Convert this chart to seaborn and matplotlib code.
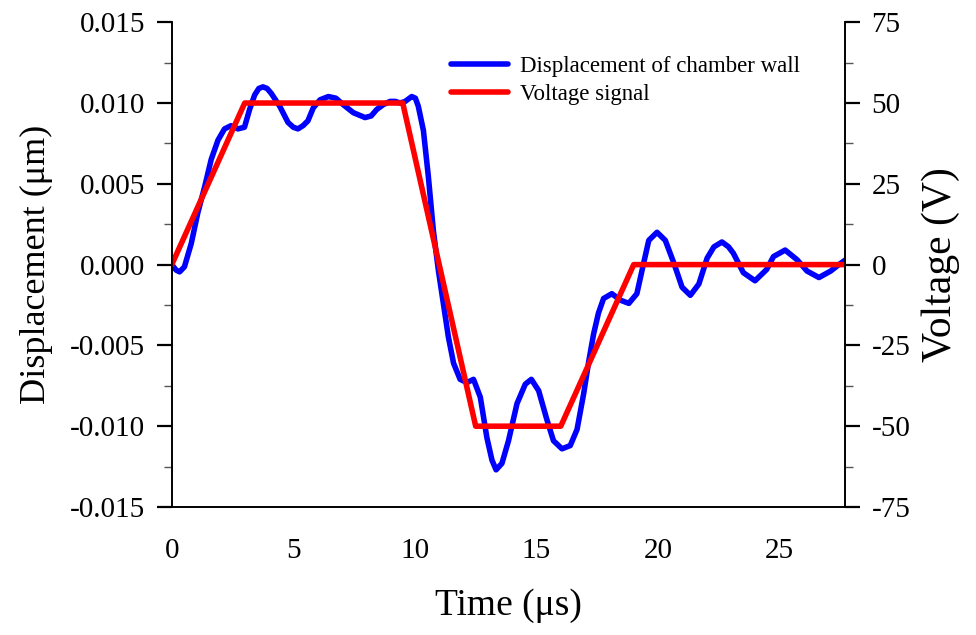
import seaborn as sns
import pandas as pd
import matplotlib.pyplot as plt
from matplotlib.ticker import MultipleLocator

# displacement of chamber wall
t_disp = [0.0, 0.18, 0.32, 0.52, 0.8, 1.07, 1.35, 1.62, 1.9, 2.17, 2.44, 2.72, 2.99,
          3.2, 3.41, 3.58, 3.75, 3.92, 4.09, 4.44, 4.78, 5.0, 5.19, 5.4, 5.6, 5.82, 6.1,
          6.44, 6.75, 7.05, 7.47, 7.95, 8.2, 8.43, 8.7, 8.98, 9.2, 9.39, 9.6, 9.87,
          10.02, 10.14, 10.35, 10.55, 10.76, 10.97, 11.17, 11.38, 11.59, 11.86, 12.14,
          12.41, 12.69, 12.96, 13.17, 13.34, 13.58, 13.85, 14.2, 14.54, 14.79, 15.09,
          15.43, 15.7, 16.05, 16.39, 16.67, 16.94, 17.15, 17.35, 17.55, 17.76, 18.1,
          18.45, 18.8, 19.13, 19.41, 19.62, 19.96, 20.3, 20.65, 20.99, 21.33, 21.68,
          22.02, 22.3, 22.63, 22.9, 23.1, 23.51, 23.99, 24.47, 24.75, 25.23, 25.72,
          26.13, 26.62, 27.1, 27.44, 27.72]
disp = [0.0, -0.00034, -0.00045, -0.00014, 0.0013, 0.0032, 0.0048, 0.0065, 0.0077,
        0.0084, 0.0086, 0.0084, 0.0085, 0.0096, 0.0105, 0.0109, 0.0110, 0.0109, 0.0106,
        0.0098, 0.0088, 0.0085, 0.0084, 0.0086, 0.0089, 0.0097, 0.0102, 0.0104, 0.0103,
        0.0099, 0.0094, 0.0091, 0.0092, 0.0096, 0.0099, 0.0101, 0.0101, 0.0100, 0.0101,
        0.0104, 0.0103, 0.0098, 0.0083, 0.0055, 0.0021, -0.0004, -0.0024, -0.0045,
        -0.0061, -0.0071, -0.0073, -0.0071, -0.0082, -0.0107, -0.0121, -0.0127, -0.0123,
        -0.0109, -0.0086, -0.0074, -0.0071, -0.0078, -0.0096, -0.0109, -0.0114, -0.0112,
        -0.0102, -0.0080, -0.0060, -0.0043, -0.0030, -0.0021, -0.0018, -0.0022, -0.0024,
        -0.0018, 0.0001, 0.0015, 0.0020, 0.0015, 0.0001, -0.0014, -0.0019, -0.0012,
        0.0004, 0.0011, 0.0014, 0.0011, 0.0007, -0.0005, -0.0010, -0.0003, 0.0005,
        0.0009, 0.0003, -0.0004, -0.0008, -0.0004, 0.0000, 0.0003]

# voltage signal
t_volt = [0.0, 3.0, 9.5, 12.5, 16.0, 19.0, 27.7]
volt = [0, 50, 50, -50, -50, 0, 0]

df_d = pd.DataFrame({"Time": t_disp, "Displacement": disp})
df_v = pd.DataFrame({"Time": t_volt, "Voltage": volt})

sns.set_style("white")
plt.rcParams['font.family'] = ['Liberation Serif', 'DejaVu Serif']
plt.rcParams['axes.unicode_minus'] = False
plt.rcParams['text.color'] = 'black'
plt.rcParams['axes.labelcolor'] = 'black'

fig = plt.figure(figsize=(9.76, 6.35), dpi=100)
ax = fig.add_axes([0.176, 0.2016, 0.69, 0.7634])
ax2 = ax.twinx()

sns.lineplot(data=df_d, x="Time", y="Displacement", ax=ax, color="#0000ff", lw=4.0,
             label="Displacement of chamber wall", legend=False, sort=False)
sns.lineplot(data=df_v, x="Time", y="Voltage", ax=ax2, color="#ff0000", lw=4.0,
             label="Voltage signal", legend=False, sort=False)

ax.set_xlim(0, 27.7)
ax.set_ylim(-0.015, 0.015)
ax2.set_ylim(-75, 75)
ax.set_xticks([0, 5, 10, 15, 20, 25])
ax.xaxis.set_minor_locator(MultipleLocator(2.5))
yt = [-0.015, -0.010, -0.005, 0.0, 0.005, 0.010, 0.015]
ax.set_yticks(yt)
ax.set_yticklabels([f"{v:.3f}" for v in yt])
ax.yaxis.set_minor_locator(MultipleLocator(0.0025))
ax2.set_yticks([-75, -50, -25, 0, 25, 50, 75])
ax2.yaxis.set_minor_locator(MultipleLocator(12.5))

for a in (ax, ax2):
    a.spines['top'].set_visible(False)
    for s in a.spines.values():
        s.set_linewidth(1.2)
        s.set_color('black')
    a.tick_params(which='major', direction='out', length=11, width=1.6, labelsize=21,
                  pad=8, colors='black')
    a.tick_params(which='minor', direction='out', length=6, width=1.0, colors='#555555')
ax.tick_params(axis='x', which='major', pad=11)

ax.set_xlabel("Time (μs)", fontsize=27, labelpad=18)
ax.set_ylabel("Displacement (μm)", fontsize=26, labelpad=12)
ax2.set_ylabel("Voltage (V)", fontsize=30, labelpad=8)

h1, l1 = ax.get_legend_handles_labels()
h2, l2 = ax2.get_legend_handles_labels()
ax2.legend(h1 + h2, l1 + l2, loc='upper right', bbox_to_anchor=(0.963, 0.972), frameon=False,
           fontsize=16.5, handlelength=2.5, handletextpad=0.5, labelspacing=0.3)

fig.savefig("out.png", dpi=100)
